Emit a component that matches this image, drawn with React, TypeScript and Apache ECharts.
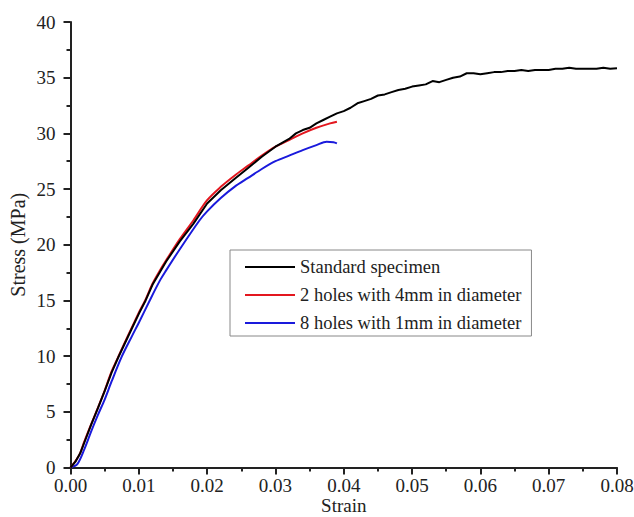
import React, { useEffect, useRef } from "react";
import * as echarts from "echarts";

const xTicks = [0, 0.01, 0.02, 0.03, 0.04, 0.05, 0.06, 0.07, 0.08];
const yTicks = [0, 5, 10, 15, 20, 25, 30, 35, 40];

const seriesNames = [
  "Standard specimen",
  "2 holes with 4mm in diameter",
  "8 holes with 1mm in diameter",
];

const stdStrain = [
  0, 0.0007, 0.0014, 0.002, 0.003, 0.004, 0.005, 0.006, 0.007, 0.008, 0.009, 0.01, 0.011,
  0.012, 0.014, 0.016, 0.018, 0.02, 0.022, 0.024, 0.026, 0.028, 0.03, 0.032, 0.033, 0.034,
  0.035, 0.036, 0.037, 0.038, 0.039, 0.04, 0.041, 0.042, 0.043, 0.044, 0.045, 0.046, 0.047,
  0.048, 0.049, 0.05, 0.051, 0.052, 0.053, 0.054, 0.055, 0.056, 0.057, 0.058, 0.059, 0.06,
  0.061, 0.062, 0.063, 0.064, 0.065, 0.066, 0.067, 0.068, 0.069, 0.07, 0.071, 0.072, 0.073,
  0.074, 0.075, 0.076, 0.077, 0.078, 0.079, 0.08,
];
const stdStress = [
  0, 0.5, 1.25, 2.2, 3.8, 5.3, 6.85, 8.5, 9.9, 11.2, 12.5, 13.8, 15.0, 16.4, 18.5, 20.3,
  21.9, 23.7, 24.9, 25.9, 26.9, 27.9, 28.8, 29.5, 30.0, 30.3, 30.5, 30.9, 31.2, 31.5, 31.8,
  32.0, 32.3, 32.7, 32.9, 33.1, 33.4, 33.5, 33.7, 33.9, 34.0, 34.2, 34.3, 34.4, 34.7, 34.6,
  34.8, 35.0, 35.1, 35.4, 35.4, 35.3, 35.4, 35.5, 35.5, 35.6, 35.6, 35.7, 35.6, 35.7, 35.7,
  35.7, 35.8, 35.8, 35.9, 35.8, 35.8, 35.8, 35.8, 35.9, 35.8, 35.85,
];

const holes4Strain = [
  0, 0.0007, 0.0014, 0.002, 0.003, 0.004, 0.005, 0.006, 0.007, 0.008, 0.009, 0.01, 0.011,
  0.012, 0.013, 0.014, 0.016, 0.018, 0.02, 0.022, 0.024, 0.026, 0.028, 0.03, 0.032, 0.034,
  0.036, 0.038, 0.039,
];
const holes4Stress = [
  0, 0.55, 1.27, 2.3, 3.85, 5.35, 6.9, 8.6, 9.95, 11.3, 12.6, 13.9, 15.1, 16.5, 17.6, 18.6,
  20.5, 22.2, 24.0, 25.2, 26.2, 27.1, 28.0, 28.8, 29.4, 30.0, 30.5, 30.9, 31.05,
];

const holes1Strain = [
  0, 0.001, 0.002, 0.003, 0.004, 0.005, 0.006, 0.0075, 0.009, 0.01, 0.0116, 0.0131, 0.014,
  0.016, 0.0189, 0.02, 0.022, 0.024, 0.026, 0.028, 0.03, 0.032, 0.034, 0.036, 0.0375, 0.0385,
  0.039,
];
const holes1Stress = [
  0, 0.3, 1.6, 3.2, 4.7, 6.1, 7.7, 9.95, 11.8, 13.0, 15.0, 16.8, 17.7, 19.6, 22.2, 23.0,
  24.2, 25.2, 26.0, 26.8, 27.5, 28.0, 28.5, 28.95, 29.25, 29.2, 29.1,
];

const colors = ["#000000", "#e3171f", "#1a1adc"];

const pair = (xs: number[], ys: number[]) => xs.map((x, i) => [x, ys[i]]);

const FONT = "'Liberation Serif', 'Times New Roman', serif";

export default function App() {
  const ref = useRef<HTMLDivElement>(null);
  useEffect(() => {
    if (!ref.current) return;
    const chart = echarts.init(ref.current, undefined, { renderer: "svg" });
    const axisCommon = {
      axisLine: { show: true, lineStyle: { color: "#222", width: 2 } },
      axisTick: { show: true, inside: false, length: 7, lineStyle: { color: "#222", width: 2 } },
      minorTick: { show: true, splitNumber: 2, length: 4, lineStyle: { color: "#222", width: 2 } },
      splitLine: { show: false },
      axisLabel: { color: "#222", fontFamily: FONT, fontSize: 19 },
      nameTextStyle: { color: "#222", fontFamily: FONT, fontSize: 20 },
      nameMoveOverlap: false,
    };
    chart.setOption({
      animation: false,
      backgroundColor: "#ffffff",
      grid: {
        left: 70.5,
        right: 17,
        top: 22,
        bottom: 49.5,
        containLabel: false,
        outerBoundsMode: "none",
      },
      xAxis: {
        type: "value",
        min: xTicks[0],
        max: xTicks[xTicks.length - 1],
        interval: 0.01,
        name: "Strain",
        nameLocation: "middle",
        nameGap: 28,
        ...axisCommon,
        nameTextStyle: { ...axisCommon.nameTextStyle, fontSize: 19, lineHeight: 19 },
        axisLabel: {
          ...axisCommon.axisLabel,
          margin: 8,
          lineHeight: 19,
          formatter: (v: number) => v.toFixed(2),
        },
      },
      yAxis: {
        type: "value",
        min: yTicks[0],
        max: yTicks[yTicks.length - 1],
        interval: 5,
        name: "Stress (MPa)",
        nameLocation: "middle",
        nameGap: 43,
        nameRotate: 90,
        ...axisCommon,
        axisLabel: { ...axisCommon.axisLabel, margin: 15 },
      },
      legend: {
        orient: "vertical",
        left: 230,
        top: 250,
        padding: [7, 10, 3, 15],
        itemGap: 8,
        itemWidth: 50,
        itemHeight: 2,
        icon: "rect",
        borderColor: "#888",
        borderWidth: 1,
        textStyle: { color: "#222", fontFamily: FONT, fontSize: 18.5, lineHeight: 20 },
        data: seriesNames,
      },
      series: [
        {
          name: seriesNames[0],
          type: "line",
          data: pair(stdStrain, stdStress),
          showSymbol: false,
          lineStyle: { color: colors[0], width: 2 },
          itemStyle: { color: colors[0] },
          z: 3,
        },
        {
          name: seriesNames[1],
          type: "line",
          data: pair(holes4Strain, holes4Stress),
          showSymbol: false,
          smooth: 0.3,
          lineStyle: { color: colors[1], width: 2 },
          itemStyle: { color: colors[1] },
          z: 2,
        },
        {
          name: seriesNames[2],
          type: "line",
          data: pair(holes1Strain, holes1Stress),
          showSymbol: false,
          smooth: 0.3,
          lineStyle: { color: colors[2], width: 2 },
          itemStyle: { color: colors[2] },
          z: 1,
        },
      ],
    });
    return () => chart.dispose();
  }, []);
  return <div ref={ref} style={{ width: 634, height: 517, position: "absolute", left: 0, top: 0 }} />;
}
